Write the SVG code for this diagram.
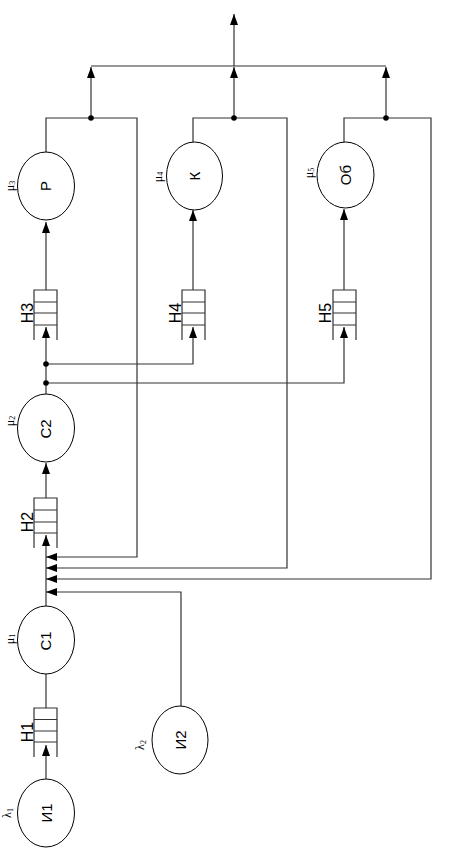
<svg xmlns="http://www.w3.org/2000/svg" width="454" height="849" viewBox="0 0 454 849">
<style>
.n{fill:#fff;stroke:#000;stroke-width:1}
.q{fill:none;stroke:#333;stroke-width:1.2}
.t{font-family:"Liberation Sans",Arial,sans-serif;font-size:15px;text-anchor:middle;fill:#000}
.h{font-family:"Liberation Sans",Arial,sans-serif;font-size:16px;text-anchor:middle;fill:#000}
.g{font-family:"Liberation Serif","Times New Roman",serif;font-size:12px;text-anchor:middle;fill:#000}
.s{font-size:8px}
.c{fill:none;stroke:#333;stroke-width:1.2}
.a{marker-end:url(#ar)}
</style>
<defs>
<marker id="ar" markerWidth="11" markerHeight="8" refX="11" refY="4" orient="auto" markerUnits="userSpaceOnUse">
<path d="M0,0 L11,4 L0,8 z" fill="#000"/>
</marker>
</defs>
<rect width="454" height="849" fill="#fff"/>
<g id="connectors">
<line class="c a" x1="46" y1="779" x2="46" y2="745"/>
<line class="c" x1="46" y1="708" x2="46" y2="673"/>
<line class="c a" x1="46" y1="606" x2="46" y2="535"/>
<polyline class="c a" points="181,706 181,592 46,592"/>
<polyline class="c a" points="46,152 46,118 137,118 137,557 46,557"/>
<polyline class="c a" points="193,142 193,118 287,118 287,568 46,568"/>
<polyline class="c a" points="344,142 344,118 431,118 431,579 46,579"/>
<line class="c a" x1="91" y1="118" x2="91" y2="67"/>
<line class="c a" x1="234" y1="118" x2="234" y2="67"/>
<line class="c a" x1="386" y1="118" x2="386" y2="67"/>
<line class="c" x1="91" y1="66" x2="386" y2="66"/>
<line class="c a" x1="234" y1="66" x2="234" y2="14"/>
<line class="c a" x1="46" y1="498" x2="46" y2="463"/>
<line class="c a" x1="46" y1="394" x2="46" y2="327"/>
<polyline class="c a" points="46,364 193,364 193,327"/>
<polyline class="c a" points="46,383 344,383 344,327"/>
<line class="c a" x1="46" y1="290" x2="46" y2="222"/>
<line class="c a" x1="193" y1="290" x2="193" y2="210"/>
<line class="c a" x1="344" y1="290" x2="344" y2="209"/>
<circle cx="91" cy="118" r="2.8"/>
<circle cx="234" cy="118" r="2.8"/>
<circle cx="386" cy="118" r="2.8"/>
<circle cx="46" cy="364" r="2.8"/>
<circle cx="46" cy="383" r="2.8"/>
</g>
<g id="I1">
<ellipse class="n" cx="46" cy="813" rx="28.5" ry="34"/>
<text class="t" transform="translate(51.5 813) rotate(-90)">И1</text>
<text class="g" transform="translate(11 813) rotate(-90)">λ<tspan class="s" dy="2">1</tspan></text>
</g>
<g id="I2">
<ellipse class="n" cx="180" cy="740" rx="28" ry="34"/>
<text class="t" transform="translate(185.5 740) rotate(-90)">И2</text>
<text class="g" transform="translate(144 745) rotate(-90)">λ<tspan class="s" dy="2">2</tspan></text>
</g>
<g id="N1">
<path class="q" d="M34,757 V708 H57 V757 M34,719.5 H57 M34,731 H57 M34,742 H57"/>
<text class="h" transform="translate(32.5 732) rotate(-90)">Н1</text>
</g>
<g id="C1">
<ellipse class="n" cx="46" cy="640" rx="28.5" ry="34"/>
<text class="t" transform="translate(51 641) rotate(-90)">С1</text>
<text class="g" transform="translate(14 639) rotate(-90)">μ<tspan class="s" dy="1">1</tspan></text>
</g>
<g id="N2">
<path class="q" d="M34,548 V498 H57 V548 M34,510 H57 M34,522 H57 M34,533 H57"/>
<text class="h" transform="translate(32.5 522) rotate(-90)">Н2</text>
</g>
<g id="C2">
<ellipse class="n" cx="46" cy="428" rx="28.5" ry="34"/>
<text class="t" transform="translate(51 429) rotate(-90)">С2</text>
<text class="g" transform="translate(14 421) rotate(-90)">μ<tspan class="s" dy="1">2</tspan></text>
</g>
<g id="N3">
<path class="q" d="M34,340 V290 H57 V340 M34,302 H57 M34,313 H57 M34,325 H57"/>
<text class="h" transform="translate(32.5 313) rotate(-90)">Н3</text>
</g>
<g id="N4">
<path class="q" d="M182,340 V290 H205 V340 M182,302 H205 M182,313 H205 M182,325 H205"/>
<text class="h" transform="translate(180.5 313) rotate(-90)">Н4</text>
</g>
<g id="N5">
<path class="q" d="M333,340 V290 H356 V340 M333,302 H356 M333,313 H356 M333,325 H356"/>
<text class="h" transform="translate(330.5 313) rotate(-90)">Н5</text>
</g>
<g id="P">
<ellipse class="n" cx="46" cy="186" rx="28.5" ry="34"/>
<text class="t" transform="translate(51 186) rotate(-90)">Р</text>
<text class="g" transform="translate(14 186) rotate(-90)">μ<tspan class="s" dy="1">3</tspan></text>
</g>
<g id="K">
<ellipse class="n" cx="194.5" cy="176" rx="28" ry="34"/>
<text class="t" transform="translate(200 176) rotate(-90)">К</text>
<text class="g" transform="translate(162 177) rotate(-90)">μ<tspan class="s" dy="1">4</tspan></text>
</g>
<g id="Ob">
<ellipse class="n" cx="345.5" cy="175" rx="28.5" ry="33"/>
<text class="t" transform="translate(351 175) rotate(-90)">Об</text>
<text class="g" transform="translate(313 173) rotate(-90)">μ<tspan class="s" dy="1">5</tspan></text>
</g>
</svg>
